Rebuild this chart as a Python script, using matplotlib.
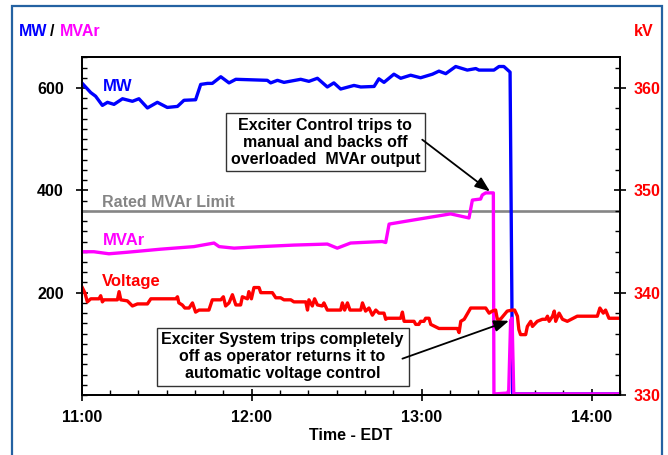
"""Generator trip event: MW / MVAr / kV traces with annotations."""

import matplotlib
matplotlib.use("Agg")
import matplotlib.pyplot as plt
from matplotlib.patches import Rectangle
from matplotlib.ticker import MultipleLocator, FixedLocator

BLUE = "#0000FF"
MAGENTA = "#FF00FF"
RED = "#FF0000"
GRAY = "#858585"
FRAME = "#2462A2"

# minutes after 11:00
mw_t = [0.2, 3.2, 4.9, 7.3, 9.1, 11.4, 14.4, 17.9, 20.2, 23.2, 26.7, 30.2, 33.8,
        36.1, 40.2, 42.0, 44.4, 46.1, 49.1, 52.0, 54.4, 65.5, 66.7, 69.1, 71.4,
        77.3, 80.2, 83.2, 86.7, 89.0, 91.4, 96.1, 98.5, 103.2, 104.9, 106.7,
        110.2, 112.6, 116.1, 119.6, 123.8, 126.1, 128.5, 132.0, 136.1, 139.1,
        140.2, 145.5, 147.3, 149.0, 151.2, 152.1, 190.2]
mw_v = [609, 591, 584, 566, 572, 568, 579, 574, 579, 561, 572, 562, 564,
        576, 577, 607, 609, 609, 622, 610, 617, 615, 610, 615, 611,
        617, 613, 619, 602, 610, 598, 605, 602, 603, 618, 611,
        627, 619, 625, 620, 627, 633, 628, 642, 635, 638,
        635, 635, 642, 642, 631, 2, 2]

mvar_t = [0.2, 4.3, 9.6, 16.1, 27.9, 39.6, 46.7, 48.5, 53.8, 63.2, 74.9, 86.7,
          90.2, 94.9, 98.5, 106.1, 107.3, 108.5, 113.8, 130.2, 136.7, 137.9,
          140.8, 141.4, 142.6, 145.3, 145.5, 150.7, 151.4, 151.9, 152.5, 190.2]
mvar_v = [280, 280, 276, 279, 285, 290, 297, 290, 287, 290, 293, 295,
          287, 297, 298, 300, 298, 334, 339, 354, 346, 381,
          383, 391, 395, 395, 2, 4, 146, 150, 2, 2]

rated_mvar = 360

kv_t = [0.2, 1.1, 2.0, 3.2, 6.1, 6.7, 7.3, 7.9, 12.6, 13.2, 13.8, 16.1, 17.9,
        19.7, 23.2, 24.4, 33.2, 33.8, 34.3, 35.5, 36.4, 37.9, 39.1, 40.2, 41.4,
        44.9, 46.1, 49.1, 50.0, 50.8, 52.0, 53.2, 54.4, 56.1, 56.7, 58.5, 59.0,
        59.9, 60.8, 62.6, 63.2, 67.3, 68.5, 70.2, 71.4, 73.8, 74.9, 79.1, 79.7,
        80.2, 81.4, 82.2, 83.2, 84.9, 85.5, 86.7, 91.4, 92.0, 92.8, 93.8, 94.7,
        98.5, 99.1, 100.2, 101.4, 102.6, 103.8, 104.9, 106.7, 107.3, 107.9,
        112.6, 113.2, 113.8, 117.3, 117.9, 119.0, 119.6, 120.8, 121.4, 122.6,
        123.2, 126.1, 132.6, 133.2, 133.8, 135.0, 137.3, 142.6, 143.8, 144.9,
        146.1, 146.7, 147.8, 150.2, 152.0, 152.8, 153.8, 154.3, 154.9, 156.7,
        157.3, 158.5, 159.1, 160.8, 162.6, 163.8, 164.4, 165.0, 166.2, 166.8,
        167.3, 168.5, 169.7, 171.4, 174.9, 177.3, 182.0, 182.9, 184.1, 184.9,
        186.1, 190.0]
kv_v = [340.5, 340.0, 339.1, 339.4, 339.4, 339.7, 339.1, 339.3, 339.3, 340.1,
        339.3, 339.2, 338.7, 338.9, 338.9, 339.4, 339.4, 339.6, 339.0, 338.8,
        338.5, 338.5, 339.0, 338.1, 338.3, 338.3, 339.3, 339.3, 339.6, 338.7,
        339.0, 339.8, 338.8, 338.8, 339.6, 339.4, 340.1, 339.4, 340.5, 340.5,
        340.0, 340.0, 339.5, 339.5, 339.3, 339.3, 339.1, 339.1, 338.3, 339.3,
        338.7, 339.4, 338.8, 338.7, 339.0, 338.3, 338.3, 339.0, 338.3, 339.0,
        338.3, 338.3, 339.0, 338.2, 338.5, 337.8, 338.3, 338.0, 338.0, 337.4,
        337.5, 337.5, 338.1, 337.2, 337.2, 336.9, 336.9, 337.2, 337.2, 337.5,
        337.5, 336.9, 336.5, 336.5, 336.1, 337.2, 337.4, 338.5, 338.5, 338.0,
        338.2, 338.3, 337.4, 337.4, 338.2, 338.3, 338.3, 337.7, 336.4, 335.9,
        335.9, 336.7, 337.2, 336.7, 337.2, 337.4, 337.4, 337.7, 337.2, 337.7,
        338.2, 337.2, 338.0, 337.4, 337.2, 337.7, 337.7, 337.7, 338.5, 338.0,
        338.3, 337.5, 337.5]

hour_ticks = [0, 60, 120, 180]
hour_labels = ["11:00", "12:00", "13:00", "14:00"]
mw_ticks = [200, 400, 600]
kv_ticks = [330, 340, 350, 360]

note_trip = "Exciter Control trips to\nmanual and backs off\noverloaded  MVAr output"
note_auto = "Exciter System trips completely\noff as operator returns it to\nautomatic voltage control"

W, H = 668, 455


def fx(px):
    return px / W


def fy(py):
    return 1 - py / H


plt.rcParams.update({
    "font.family": ["Liberation Sans", "DejaVu Sans"],
    "font.weight": "bold",
    "axes.labelweight": "bold",
    "font.size": 11,
})

fig = plt.figure(figsize=(W / 100, H / 100), dpi=100)
fig.patches.append(Rectangle((fx(12), -0.05), fx(662) - fx(12), fy(6) + 0.05,
                             transform=fig.transFigure, fill=False,
                             edgecolor=FRAME, linewidth=1.6))

ax = fig.add_axes([fx(81.7), fy(395), fx(620) - fx(81.7), fy(57.3) - fy(395)])
ax2 = ax.twinx()

ax.axhline(rated_mvar, color=GRAY, linewidth=1.9, zorder=2)
ax.plot(mw_t, mw_v, color=BLUE, linewidth=2.4, zorder=3, solid_joinstyle="round")
ax.plot(mvar_t, mvar_v, color=MAGENTA, linewidth=2.4, zorder=4, solid_joinstyle="round")
ax2.plot(kv_t, kv_v, color=RED, linewidth=2.4, solid_joinstyle="round")

ax.set_xlim(0, 190.0)
ax.set_ylim(0, 660)
ax2.set_ylim(330, 363)

ax.xaxis.set_major_locator(FixedLocator(hour_ticks))
ax.set_xticklabels(hour_labels)
ax.xaxis.set_minor_locator(MultipleLocator(10))
ax.yaxis.set_major_locator(FixedLocator(mw_ticks))
ax.yaxis.set_minor_locator(MultipleLocator(20))
ax2.yaxis.set_major_locator(FixedLocator(kv_ticks))
ax2.yaxis.set_minor_locator(MultipleLocator(2))

ax.tick_params(axis="both", which="major", direction="inout", length=8, width=1.2,
               labelsize=11.5)
ax.tick_params(axis="both", which="minor", direction="in", length=3.5, width=1.0)
ax.tick_params(axis="y", which="major", pad=9)
ax.tick_params(axis="x", which="major", pad=7)
ax2.tick_params(axis="y", which="major", direction="inout", length=8, width=1.2,
                labelsize=11.5, labelcolor=RED, pad=6)
ax2.tick_params(axis="y", which="minor", direction="in", length=3.5, width=1.0)
for a in (ax, ax2):
    for s in a.spines.values():
        s.set_linewidth(1.3)

ax.set_xlabel("Time - EDT", fontsize=11.5, fontweight="bold", labelpad=2)

# series labels
ax.text(7.3, 602, "MW", color=BLUE, fontsize=12, va="center")
ax.text(7.3, 376, "Rated MVAr Limit", color=GRAY, fontsize=11.5, va="center")
ax.text(7.3, 301, "MVAr", color=MAGENTA, fontsize=12, va="center")
ax.text(7.3, 221, "Voltage", color=RED, fontsize=12, va="center")

# axis titles above the plot
fig.text(fx(19), fy(31), "MW", color=BLUE, fontsize=11.5, va="center")
fig.text(fx(50), fy(31), "/", color="black", fontsize=11.5, va="center")
fig.text(fx(60), fy(31), "MVAr", color=MAGENTA, fontsize=11.5, va="center")
fig.text(fx(634), fy(31), "kV", color=RED, fontsize=11.5, va="center")

box = dict(boxstyle="square,pad=0.3", facecolor="white", edgecolor="#333333",
           linewidth=1.0)
ax2.text(86.0, 330 + 494 / 20, note_trip, ha="center",
         va="center", fontsize=11.5, linespacing=1.15, bbox=box, zorder=6)
ax2.text(70.9, 330 + 75 / 20, note_auto, ha="center", va="center",
         fontsize=11.5, linespacing=1.15, bbox=box, zorder=6)

arrow = dict(arrowstyle="-|>,head_length=0.9,head_width=0.35", color="black",
             lw=1.3, mutation_scale=10, shrinkA=0, shrinkB=0)
ax2.annotate("", xy=(144.1, 398), xytext=(120.2, 499), xycoords=ax.transData,
             textcoords=ax.transData, arrowprops=arrow, zorder=7)
ax2.annotate("", xy=(150.8, 145), xytext=(113.2, 71), xycoords=ax.transData,
             textcoords=ax.transData, arrowprops=arrow, zorder=7)

fig.savefig("out.png", dpi=100)
